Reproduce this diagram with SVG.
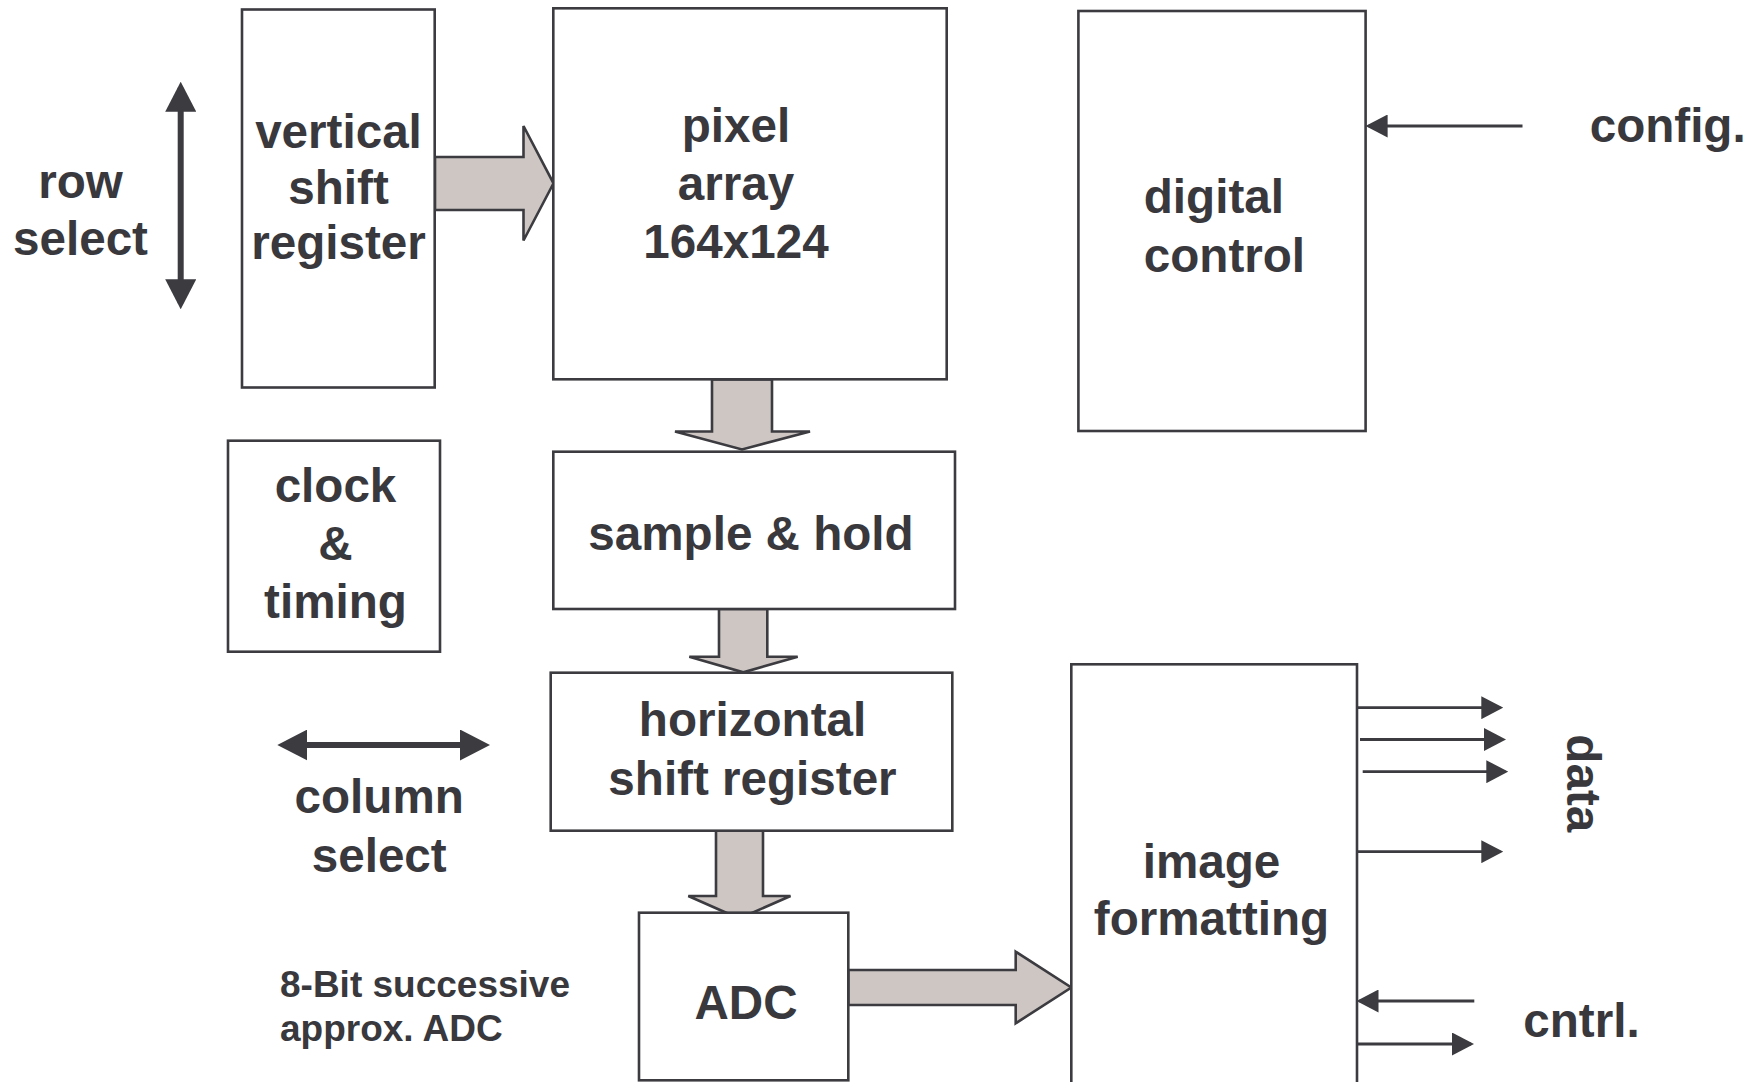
<svg xmlns="http://www.w3.org/2000/svg" width="1757" height="1082" viewBox="0 0 1757 1082">
<defs>
<style>
.box{fill:#ffffff;stroke:#3b3b40;stroke-width:2.6}
.big{fill:#cdc6c3;stroke:#3b3b40;stroke-width:2.6;stroke-linejoin:miter}
.thin{fill:none;stroke:#3b3b40;stroke-width:2.8}
.thick{fill:none;stroke:#3b3b40;stroke-width:6}
text{font-family:"Liberation Sans",Arial,sans-serif;font-weight:bold;fill:#38383d;font-size:47.6px}
.c{text-anchor:middle}
.small{font-size:37px}
</style>
<marker id="ah" markerUnits="userSpaceOnUse" markerWidth="22" markerHeight="23" refX="19" refY="11.5" orient="auto-start-reverse"><path d="M0,0 L22,11.5 L0,23 Z" fill="#3b3b40"/></marker>
<marker id="ahBig" markerUnits="userSpaceOnUse" markerWidth="30" markerHeight="31" refX="24" refY="15.5" orient="auto-start-reverse"><path d="M0,0 L30,15.5 L0,31 Z" fill="#3b3b40"/></marker>
</defs>
<rect width="1757" height="1082" fill="#ffffff"/>

<g id="connectors">
<polygon class="big" points="435,157 523.5,157 523.5,126 553.5,183.3 523.5,240.5 523.5,210 435,210"/>
<polygon class="big" points="712,379.5 772,379.5 772,431.5 810,431.5 742,449.5 675,431.5 712,431.5"/>
<polygon class="big" points="719,609 767.3,609 767.3,656.7 797.7,656.7 743.3,672.3 689.3,656.7 719,656.7"/>
<polygon class="big" points="716,830.7 763,830.7 763,896 790.5,896 739.3,918.5 688.3,896 716,896"/>
<polygon class="big" points="848.3,970 1015.7,970 1015.7,951.7 1071.3,987.5 1015.7,1023.3 1015.7,1005 848.3,1005"/>
<line class="thick" x1="180.7" y1="87.7" x2="180.7" y2="303.3" marker-start="url(#ahBig)" marker-end="url(#ahBig)"/>
<line class="thick" x1="283.3" y1="745" x2="484" y2="745" marker-start="url(#ahBig)" marker-end="url(#ahBig)"/>
<line class="thin" x1="1522.5" y1="126" x2="1368.6" y2="126" marker-end="url(#ah)"/>
<line class="thin" x1="1357" y1="707.7" x2="1500.3" y2="707.7" marker-end="url(#ah)"/>
<line class="thin" x1="1360" y1="739.5" x2="1503" y2="739.5" marker-end="url(#ah)"/>
<line class="thin" x1="1362.7" y1="771.7" x2="1505.3" y2="771.7" marker-end="url(#ah)"/>
<line class="thin" x1="1357" y1="851.7" x2="1500.3" y2="851.7" marker-end="url(#ah)"/>
<line class="thin" x1="1474.3" y1="1001" x2="1359.5" y2="1001" marker-end="url(#ah)"/>
<line class="thin" x1="1357" y1="1044" x2="1471" y2="1044" marker-end="url(#ah)"/>
</g>

<g id="vertical-shift-register">
<rect class="box" x="242" y="9.5" width="192.7" height="378"/>
<text class="c" x="338.5" y="148">vertical</text>
<text class="c" x="338.5" y="204">shift</text>
<text class="c" x="338.5" y="259">register</text>
</g>

<g id="pixel-array">
<rect class="box" x="553.3" y="8.3" width="393.4" height="371"/>
<text class="c" x="736" y="142">pixel</text>
<text class="c" x="736" y="200">array</text>
<text class="c" x="736" y="258.3">164x124</text>
</g>

<g id="digital-control">
<rect class="box" x="1078.4" y="11" width="287.2" height="420"/>
<text x="1143.8" y="213">digital</text>
<text x="1143.8" y="271.7">control</text>
</g>

<g id="clock-timing">
<rect class="box" x="228" y="440.7" width="212" height="211"/>
<text class="c" x="335.5" y="501.7">clock</text>
<text class="c" x="335.5" y="560">&amp;</text>
<text class="c" x="335.5" y="618.3">timing</text>
</g>

<g id="sample-hold">
<rect class="box" x="553.3" y="451.7" width="401.7" height="157.3"/>
<text class="c" x="751" y="550">sample &amp; hold</text>
</g>

<g id="horizontal-shift-register">
<rect class="box" x="550.7" y="672.7" width="401.6" height="158"/>
<text class="c" x="752.5" y="736">horizontal</text>
<text class="c" x="752.5" y="795">shift register</text>
</g>

<g id="adc">
<rect class="box" x="639" y="912.7" width="209.3" height="167.6"/>
<text class="c" x="746" y="1019.3">ADC</text>
</g>

<g id="image-formatting">
<rect class="box" x="1071.3" y="664.3" width="285.7" height="430"/>
<text class="c" x="1211.5" y="878.3">image</text>
<text class="c" x="1211.5" y="935">formatting</text>
</g>

<g id="labels">
<text class="c" x="80.5" y="198.3">row</text>
<text class="c" x="80.5" y="255">select</text>
<text class="c" x="379.2" y="813.3">column</text>
<text class="c" x="379.2" y="871.7">select</text>
<text class="small" x="280" y="996.7">8-Bit successive</text>
<text class="small" x="280" y="1040.7">approx. ADC</text>
<text x="1589.7" y="141.7">config.</text>
<text class="c" transform="translate(1567,783.3) rotate(90)">data</text>
<text x="1523.3" y="1037.3">cntrl.</text>
</g>
</svg>
